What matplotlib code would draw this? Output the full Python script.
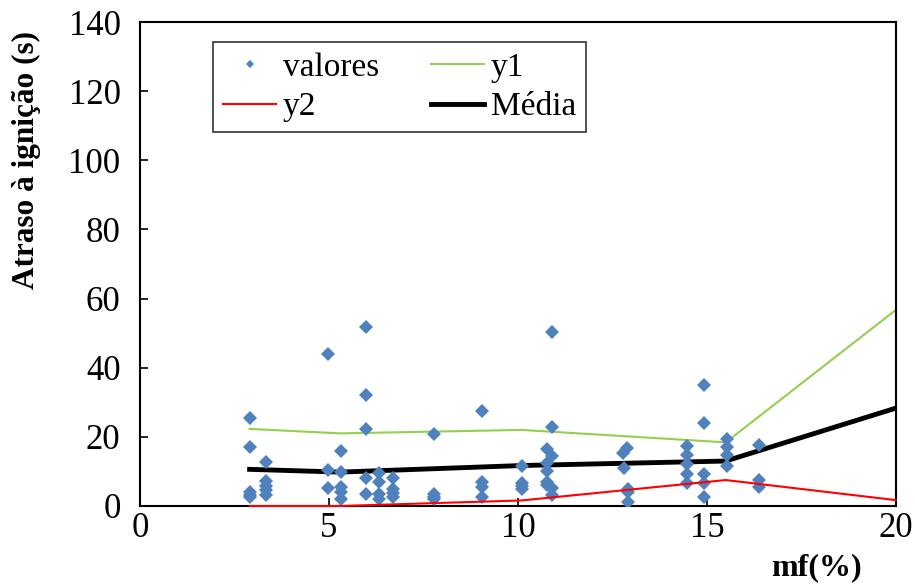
import numpy as np
import matplotlib.pyplot as plt

plt.rcParams['font.family'] = ['Liberation Serif', 'DejaVu Serif']

# valores medidos: (mf, atraso)
mf_pts = [2.9, 2.9, 2.9, 2.9, 2.9,
          3.34, 3.34, 3.34, 3.34, 3.34,
          4.98, 4.98, 4.98,
          5.33, 5.33, 5.33, 5.33, 5.33,
          5.98, 5.98, 5.98, 5.98, 5.98,
          6.32, 6.32, 6.32, 6.32,
          6.69, 6.69, 6.69, 6.69,
          7.78, 7.78, 7.78, 7.78,
          9.06, 9.06, 9.06, 9.06,
          10.12, 10.12, 10.12, 10.12,
          10.77, 10.77, 10.77, 10.77, 10.77,
          10.91, 10.91, 10.91, 10.91, 10.91,
          12.79, 12.89, 12.81, 12.91, 12.91, 12.91,
          14.48, 14.48, 14.48, 14.48, 14.48,
          14.93, 14.93, 14.93, 14.93, 14.93,
          15.54, 15.54, 15.54, 15.54,
          16.38, 16.38, 16.38]
atraso_pts = [25.4, 17.2, 3.9, 3.3, 2.7,
              12.8, 7.2, 5.8, 4.6, 3.3,
              44.0, 10.4, 5.2,
              16.0, 9.9, 5.4, 3.9, 2.1,
              51.8, 32.2, 22.4, 8.0, 3.4,
              9.6, 7.0, 3.4, 2.1,
              8.2, 4.8, 3.7, 2.7,
              20.7, 3.5, 2.7, 1.9,
              27.6, 7.0, 5.5, 2.7,
              11.7, 6.7, 5.8, 4.8,
              16.4, 12.3, 10.1, 7.0, 6.0,
              50.4, 22.9, 14.5, 5.1, 3.2,
              15.2, 16.7, 11.1, 4.8, 4.1, 1.2,
              17.4, 14.8, 12.2, 9.3, 6.7,
              35.0, 23.9, 9.3, 6.6, 2.5,
              19.3, 17.2, 14.7, 11.6,
              17.5, 7.5, 5.4]

# curvas
mf_lin = [2.9, 5.3, 10.1, 15.5, 20.0]
y1 = [22.3, 21.0, 22.0, 18.4, 56.7]
y2 = [0.0, 0.0, 1.6, 7.5, 1.7]
media = [10.6, 9.8, 11.7, 13.0, 28.3]

fig = plt.figure(figsize=(9.15, 5.84), dpi=100)
ax = fig.add_axes([0.1530, 0.1336, 0.826, 0.8287])

ax.plot(mf_pts, atraso_pts, 'D', color='#4F81BD', markersize=7,
        markeredgewidth=0, label='valores', zorder=3)
ax.plot(mf_lin, y1, color='#92D050', lw=1.5, label='y1', zorder=2)
ax.plot(mf_lin, y2, color='#FF0000', lw=1.5, label='y2', zorder=4, clip_on=False)
ax.plot(mf_lin, media, color='black', lw=3.5, label='Média', zorder=2)

ax.set_xlim(0, 20)
ax.set_ylim(0, 140)
ax.set_xticks([0, 5, 10, 15, 20])
ax.set_yticks(range(0, 141, 20))
ax.tick_params(direction='in', labelsize=25, length=6, width=1.2)
ax.tick_params(axis='x', pad=4)
ax.tick_params(axis='y', pad=14)
for s in ax.spines.values():
    s.set_linewidth(1.5)

ax.set_ylabel('Atraso à ignição (s)', fontsize=22.5, fontweight='bold')
ax.yaxis.set_label_coords(-0.131, 0.715)
fig.text(0.892, 0.015, 'mf(%)', fontsize=23, fontweight='bold', ha='center')

# legenda preenchida por linhas: valores, y1 / y2, Média
h, l = ax.get_legend_handles_labels()
order = [0, 2, 1, 3]
leg = ax.legend([h[i] for i in order], [l[i] for i in order], ncol=2,
                loc='upper left', bbox_to_anchor=(0.0966, 0.9587), fontsize=24,
                frameon=True, fancybox=False, edgecolor='black',
                handlelength=1.6, handletextpad=0.2, columnspacing=1.55,
                labelspacing=0.28, borderpad=0.3, markerscale=0.6,
                borderaxespad=0)
leg.get_frame().set_linewidth(1.2)

fig.savefig('out.png', dpi=100)
